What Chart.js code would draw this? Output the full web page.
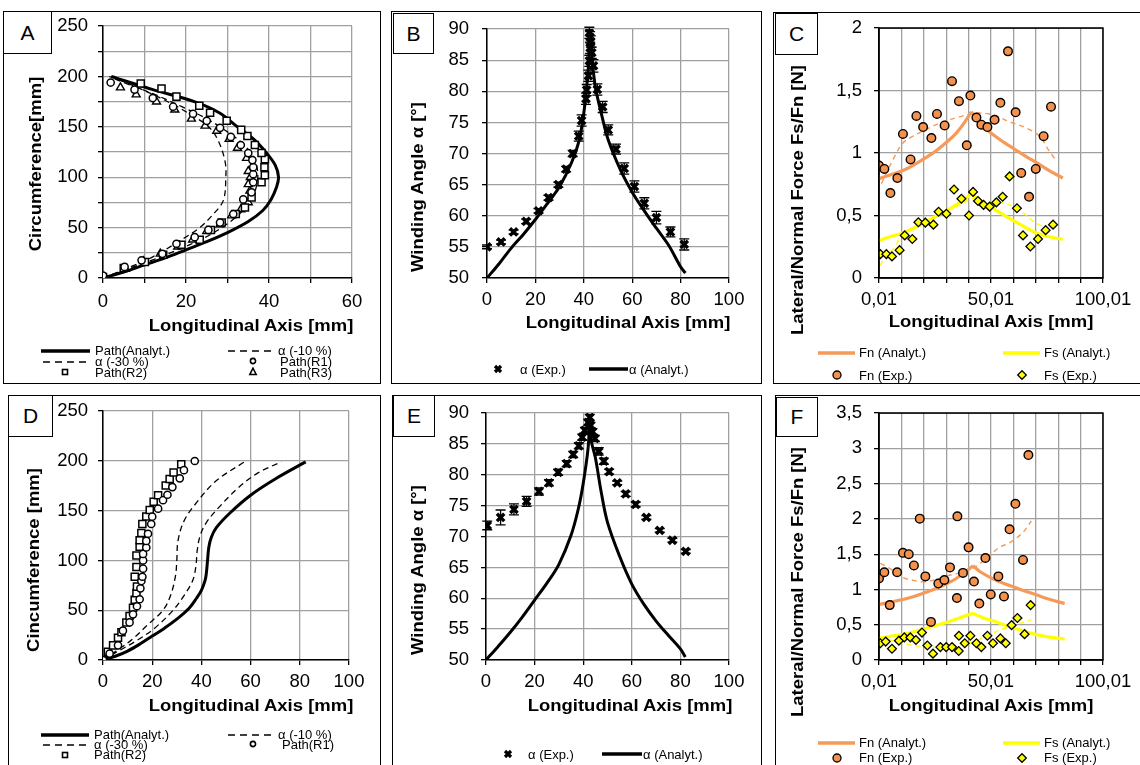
<!DOCTYPE html>
<html><head><meta charset="utf-8">
<script src="https://cdn.jsdelivr.net/npm/chart.js@4.4.1/dist/chart.umd.min.js"></script>
<style>
html,body{margin:0;padding:0;background:#fff;}
#page{position:relative;width:1140px;height:765px;overflow:hidden;background:#fff;font-family:"Liberation Sans",Arial,Helvetica,sans-serif;color:#000;}
.panel{position:absolute;border:1px solid #000;box-sizing:border-box;}
.lbl{position:absolute;border:1px solid #000;background:#fff;box-sizing:border-box;font-size:21px;display:flex;align-items:center;justify-content:center;z-index:5;}
.ttl{position:absolute;font-weight:bold;font-size:16.5px;white-space:nowrap;line-height:20px;z-index:4;}
.xt{transform:translate(-50%,-50%) scaleX(1.12);}
.yt{transform:translate(-50%,-50%) rotate(-90deg) scaleX(1.12);}
.lg{position:absolute;font-size:13px;line-height:16px;white-space:nowrap;z-index:4;}
canvas{position:absolute;z-index:2;}
svg.ov{position:absolute;left:0;top:0;z-index:3;}
</style></head>
<body><div id="page"></div>
<script>
// ---------- DATA ----------
// Panel A
const A_analyt_x = [0,5,10,15,20,25,30,35,38.5,40.5,41.8,42.3,41.5,39.2,36.5,32.4,28,22,12,2];
const A_analyt_y = [0,6,13,20,28,36,45,56,67,78,90,100,112,125,137,150,164,175,187,200];
const A_m10_x = [0,6,12,18,24,29,33,36,37.3,36.5,34,30,25,19,12,5,1.5];
const A_m10_y = [0,9,18,28,39,51,64,80,100,118,132,145,158,170,183,194,200];
const A_m30_x = [0,6,12,18.5,23.3,26.6,29,29.6,29.4,27.8,25.5,22,17,10,2];
const A_m30_y = [0,10,21,37,50,63.5,77,100,116,136,150,160,172,186,200];
const A_R1_x = [0,5.2,9.3,14.3,17.7,22.1,25.4,28.2,31.4,33.8,35.8,36.2,36.2,36.2,36,35,33.2,30.8,28.2,25,21.7,16.9,12,7.6,1.85];
const A_R1_y = [2.5,11,17.5,24,34,40.5,47.7,55,63.5,78,85,95,103,110,117,124,132,140,149,156,163,170,178.6,187,194];
const A_R2_x = [0,5,10.1,14.5,18.9,23.3,26,28.6,32,34.2,35.8,38.2,39,38.9,39,38.2,36.6,34.8,33.3,29.8,25.8,23.2,17.7,14.1,9.1];
const A_R2_y = [1,10,15.8,23,33,38,47.7,55,63.5,70,80,95,102,110,118,124,132,141,147,156,164,171,180,188,193];
const A_R3_x = [0.4,5.4,9.8,13.8,18,21.6,25,28.2,31,33.2,35,35.4,35,35.5,35,34.6,32.4,30.4,27.4,24.6,21.3,17.3,12.9,8,4.2];
const A_R3_y = [0,9,16.5,24,31,38,46.5,53,62,68,75,86.5,93,100,106,119,129,138,146,151,158,167,175,182,189];

// Panel B
const B_exp_x = [0,5.8,11,16.2,21.3,25.4,29.5,32.7,35.4,37.9,39.1,40.9,41.2,41.9,42.3,42.6,42.6,42.3,42.9,43.3,44,45.6,47.8,50.1,53.3,56.7,60.9,65,70,75.8,81.5];
const B_exp_y = [55,55.8,57.4,59.1,60.8,62.9,65,67.5,70,72.8,75.3,78.8,80.2,82.5,84.9,87,88.7,89.4,88,86.2,84.1,80.3,77.5,73.8,70.7,67.6,64.7,62,59.7,57.4,55.4];
const B_exp_err = [0.3,0.3,0.3,0.35,0.35,0.4,0.4,0.45,0.5,0.8,0.9,0.9,0.9,0.9,0.9,0.9,0.9,0.9,0.9,0.9,1.0,0.9,0.9,0.8,0.8,0.9,0.9,0.9,1.0,0.8,0.9];
const B_anL_x = [0,5,10,15,20,25,30,35,38,40,41.5,42.2,42.6];
const B_anL_y = [50,52.3,54.8,57,59.4,62,64.7,68.6,72,76.5,82,86,90];
const B_anR_x = [42.6,43.2,44,45,47.5,50,55,60,65,70,75,80,82];
const B_anR_y = [90,86,83,80.2,76,72.3,67.5,63.8,60.8,58,55.3,51.8,50.8];

// Panel C
const C_FnL_x = [0.01,5,10.7,16,21.1,26,30.8,34.5,37.5,41.2];
const C_FnL_y = [0.794,0.825,0.86,0.91,0.965,1.025,1.096,1.16,1.227,1.33];
const C_FnR_x = [41.2,45,50.9,55.8,60.6,65.4,70.2,76,82.1];
const C_FnR_y = [1.33,1.24,1.148,1.085,1.03,0.975,0.925,0.86,0.80];
const C_FsL_x = [0.01,5,10.7,16,21.1,26,30.8,34.5,37.5,41.2];
const C_FsL_y = [0.30,0.33,0.36,0.405,0.453,0.498,0.545,0.585,0.62,0.676];
const C_FsR_x = [41.2,45,50.9,55.8,60.6,65.4,70.2,76,82.1];
const C_FsR_y = [0.676,0.62,0.558,0.503,0.453,0.405,0.36,0.33,0.31];
const C_FnD_x = [1.1,6.3,10.7,15.2,21.1,28.6,36,43.5,50.9,58.3,65.8,71.7,75.5,78.4];
const C_FnD_y = [0.755,0.95,1.08,1.135,1.19,1.25,1.29,1.32,1.305,1.25,1.2,1.135,1.03,0.957];
const C_FsD_x = [0.5,3.3,6.3,10.7,16.7,21.1,28.6,36,42,48,55.4,62.8,68.8,74.7];
const C_FsD_y = [0.1,0.19,0.23,0.35,0.40,0.445,0.52,0.585,0.637,0.61,0.6,0.545,0.453,0.40];
const C_FnE_x = [0,2.4,5.1,8.2,10.7,14.1,16.7,19.7,23.4,25.9,29.3,32.6,35.7,39.2,40.8,43.5,45.7,48.4,51.6,54.2,57.6,61,63.5,67,70,73.5,76.8];
const C_FnE_y = [0.9,0.873,0.68,0.8,1.153,0.949,1.297,1.208,1.12,1.313,1.221,1.575,1.415,1.062,1.46,1.284,1.227,1.208,1.266,1.402,1.814,1.326,0.841,0.65,0.873,1.135,1.371];
const C_FsE_x = [0.6,3.3,5.8,9.2,11.5,14.9,17.6,20.7,24.3,26.6,30.1,33.5,36.8,40.2,42,44.2,46.7,49.4,52.4,55.2,58.3,61.6,64.3,67.6,71,74.4,77.7];
const C_FsE_y = [0.191,0.191,0.173,0.223,0.341,0.312,0.446,0.443,0.427,0.53,0.514,0.708,0.634,0.5,0.689,0.616,0.585,0.571,0.605,0.65,0.813,0.558,0.341,0.252,0.312,0.383,0.427];

// Panel D
const D_analyt_x = [0,5,10,15,20,25,30,35,38,40,41.5,42,42.5,43,44,46,51.5,60,70.5,82.4];
const D_analyt_y = [0,3.8,9,16,24,32,41,52,62,70,80,87,100,113,123,132.7,147.4,165.5,182.5,199];
const D_m10_x = [0,7,14,21,28.5,33,36.5,37.8,38.3,39.5,42,47,55,63,72.5];
const D_m10_y = [0,10,20,32,50,65,80,95,110,125,138,153,173,188,199];
const D_m30_x = [0,6,12,18,24.4,27.5,29.5,30,30.5,33,38,46,57.5];
const D_m30_y = [0,10,21,35,50,65,85,100,120,140,158,180,199];
const D_R1_x = [0,2.7,6.1,8.1,10.8,12.2,13.8,14.9,15.2,15.6,16,16.3,16.3,16.3,17.6,17.6,18.3,19.6,20,22.4,24.4,26.2,28.2,31.2,32.9,37.3];
const D_R1_y = [0,6.5,14.7,29.5,37.7,45.9,54,61,72,79.3,83.6,91.7,100,106.5,113,119.6,126.8,136.6,144,152,160.5,166,173.7,182.5,190.7,199.9];
const D_R2_x = [0,2,4.1,6.1,7.5,9.5,10.8,12.2,12.9,13.6,13.8,12.9,13.6,13.6,14.9,14.9,15.6,16,17.6,19,20.6,22.4,25.5,27.1,28.7,31.8];
const D_R2_y = [0,8.2,14.7,22.3,27.9,37.7,44.2,52.4,60.6,67.2,73.7,83.6,93.4,104.9,113.7,120.2,127.5,136.6,144.2,150.7,159,165.5,175.3,181.8,188.4,196.6];

// Panel E
const E_exp_x = [0.5,6,11.5,16.7,21.8,25.9,29.7,33.2,35.9,38.2,39.6,40.7,42.1,42.7,43,43.8,44.8,46.4,48.5,50.7,54,57.5,61.6,66,71.5,76.7,82.2];
const E_exp_y = [71.8,73.1,74.4,75.7,77.3,78.7,80.4,81.8,83.3,84.7,86.1,87.2,88.5,89.3,88,87,85.9,83.8,82.2,80.5,78.7,76.9,75.2,73.1,71,69.4,67.6];
const E_exp_err = [0.7,1.2,0.9,0.8,0.6,0.5,0.5,0.5,0.5,0.5,0.5,0.5,0.5,0.5,0.5,0.5,0.5,0.6,0.5,0.4,0.3,0.4,0.4,0.3,0.3,0.3,0.3];
const E_anL_x = [0,5,10,15,20,25,30,35,38,40,42,42.6];
const E_anL_y = [50,52.2,54.5,57,59.7,62.4,65.5,70.2,74.5,78.6,84.3,88.5];
const E_anR_x = [42.6,43.3,45,47.5,50,55,60,65,70,75,80,82];
const E_anR_y = [88.5,85.5,82.8,77,72.3,66.8,62.3,59,56.3,54,51.8,50.5];

// Panel F
const F_FnL_x = [0.01,5,10.7,16,21.1,26,30.8,34.5,37.5,42];
const F_FnL_y = [0.787,0.82,0.858,0.905,0.96,1.02,1.09,1.155,1.225,1.336];
const F_FnR_x = [42,45,50.9,55.8,60.6,65.4,70.2,76,82.9];
const F_FnR_y = [1.336,1.255,1.15,1.085,1.03,0.975,0.925,0.86,0.80];
const F_FsL_x = [0.01,5,10.7,16,21.1,26,30.8,34.5,37.5,42];
const F_FsL_y = [0.31,0.335,0.365,0.405,0.45,0.495,0.54,0.58,0.615,0.663];
const F_FsR_x = [42,45,50.9,55.8,60.6,65.4,70.2,76,82.9];
const F_FsR_y = [0.663,0.615,0.555,0.5,0.45,0.4,0.36,0.325,0.297];
const F_FnD_x = [0.6,6.3,10.7,15.2,19.7,24.1,30.1,36,42,47.9,53.9,58.3,64.3,68];
const F_FnD_y = [1.37,1.27,1.17,1.13,1.107,1.13,1.19,1.235,1.3,1.44,1.6,1.66,1.81,1.97];
const F_FsD_x = [0.6,9.2,15.2,24.1,33,39,44,47.9,52,56.9,62,68];
const F_FsD_y = [0.32,0.25,0.205,0.183,0.197,0.23,0.28,0.343,0.4,0.457,0.51,0.572];
const F_FnE_x = [0,2.4,4.8,8.1,10.7,13.3,15.6,18.2,20.7,23.2,26.5,29.2,31.7,34.8,35,37.5,40,42.4,44.8,47.5,49.9,53.3,55.8,58.3,60.9,64.3,66.7];
const F_FnE_y = [1.157,1.244,0.778,1.244,1.519,1.5,1.34,2.004,1.185,0.54,1.084,1.134,1.313,0.878,2.036,1.235,1.597,1.112,0.8,1.446,0.929,1.185,0.901,1.853,2.214,1.418,2.905];
const F_FsE_x = [0.6,3,5.8,8.9,11.3,14,16.5,19.2,21.6,24.1,27.4,30,32.6,35.6,35.7,38.3,40.8,43.5,45.7,48.4,50.9,54.2,56.6,59.2,61.8,65,67.7];
const F_FsE_y = [0.238,0.261,0.16,0.274,0.32,0.32,0.284,0.389,0.206,0.09,0.183,0.183,0.183,0.128,0.343,0.238,0.343,0.238,0.183,0.343,0.238,0.306,0.238,0.494,0.595,0.366,0.778];

// tick label sets
const C_xTicks = [0.01,10.01,20.01,30.01,40.01,50.01,60.01,70.01,80.01,90.01,100.01];
const C_xLabels = ['0,01','','','','','50,01','','','','','100,01'];

// ---------- HELPERS ----------
const page = document.getElementById('page');
const ORANGE = '#F4914C', ORANGE_LINE = '#F59A58', YELLOW = '#FFFF00';
const zip = (xs, ys) => xs.map((x, i) => ({x: x, y: ys[i]}));
const FONT = '"Liberation Sans", Arial, sans-serif';

function box(cls, x, y, w, h, text) {
  const d = document.createElement('div');
  d.className = cls;
  d.style.left = x + 'px'; d.style.top = y + 'px';
  d.style.width = w + 'px'; d.style.height = h + 'px';
  if (text) d.textContent = text;
  page.appendChild(d);
}
function title(t, x, y, rot) {
  const d = document.createElement('div');
  d.className = 'ttl ' + (rot ? 'yt' : 'xt');
  d.style.left = x + 'px'; d.style.top = y + 'px';
  d.textContent = t;
  page.appendChild(d);
}
function txt(t, x, y) {
  const d = document.createElement('div');
  d.className = 'lg';
  d.style.left = x + 'px'; d.style.top = (y - 8) + 'px';
  d.textContent = t;
  page.appendChild(d);
}
const svgParts = [];
function sLine(x1, x2, y, col, w, dash) {
  svgParts.push(`<line x1="${x1}" y1="${y}" x2="${x2}" y2="${y}" stroke="${col}" stroke-width="${w}"${dash ? ` stroke-dasharray="${dash}"` : ''}/>`);
}
function sCircle(x, y, r, fill, sw) { svgParts.push(`<circle cx="${x}" cy="${y}" r="${r}" fill="${fill}" stroke="#000" stroke-width="${sw}"/>`); }
function sSquare(x, y, s) { svgParts.push(`<rect x="${x - s / 2}" y="${y - s / 2}" width="${s}" height="${s}" fill="#fff" stroke="#000" stroke-width="1.6"/>`); }
function sTri(x, y, s) { svgParts.push(`<polygon points="${x},${y - s * 0.6} ${x - s / 2},${y + s * 0.4} ${x + s / 2},${y + s * 0.4}" fill="#fff" stroke="#000" stroke-width="1.5"/>`); }
function sX(x, y, s) { svgParts.push(`<path d="M${x - s} ${y - s}L${x + s} ${y + s}M${x + s} ${y - s}L${x - s} ${y + s}" stroke="#000" stroke-width="3.2"/>`); }
function sDia(x, y, s) { svgParts.push(`<polygon points="${x},${y - s} ${x + s},${y} ${x},${y + s} ${x - s},${y}" fill="${YELLOW}" stroke="#000" stroke-width="1.3"/>`); }

const errPlugin = {
  id: 'errbars',
  beforeDatasetsDraw(chart) {
    const ctx = chart.ctx, xs = chart.scales.x, ys = chart.scales.y;
    chart.data.datasets.forEach(ds => {
      if (!ds.errors) return;
      ctx.save(); ctx.strokeStyle = '#000'; ctx.lineWidth = 1.3;
      ds.data.forEach((p, j) => {
        const e = ds.errors[j], px = xs.getPixelForValue(p.x);
        const y1 = ys.getPixelForValue(p.y - e), y2 = ys.getPixelForValue(p.y + e);
        ctx.beginPath();
        ctx.moveTo(px, y1); ctx.lineTo(px, y2);
        ctx.moveTo(px - 5, y1); ctx.lineTo(px + 5, y1);
        ctx.moveTo(px - 5, y2); ctx.lineTo(px + 5, y2);
        ctx.stroke();
      });
      ctx.restore();
    });
  }
};
const boxPlugin = {
  id: 'plotbox',
  afterDraw(chart, args, opts) {
    if (!opts || !opts.on) return;
    const a = chart.chartArea, ctx = chart.ctx;
    ctx.save(); ctx.strokeStyle = '#000'; ctx.lineWidth = 1.5;
    ctx.strokeRect(a.left, a.top, a.right - a.left, a.bottom - a.top);
    ctx.restore();
  }
};

function lineDS(xs, ys, color, width, dash, tension) {
  return {data: zip(xs, ys), showLine: true, pointRadius: 0, borderColor: color, borderWidth: width,
          borderDash: dash || [], tension: tension === undefined ? 0.35 : tension, fill: false};
}
function ptDS(xs, ys, style, r, fill, stroke, bw) {
  return {data: zip(xs, ys), showLine: false, pointStyle: style, pointRadius: r,
          backgroundColor: fill, borderColor: stroke, pointBorderWidth: bw, borderWidth: bw};
}

function addChart(c, area, xo, yo, datasets, boxed) {
  const cv = document.createElement('canvas');
  cv.width = c.w; cv.height = c.h;
  cv.style.left = c.x + 'px'; cv.style.top = c.y + 'px';
  cv.style.width = c.w + 'px'; cv.style.height = c.h + 'px';
  page.appendChild(cv);
  const grid = {color: '#a0a0a0', lineWidth: 1.3, drawTicks: true, tickLength: 5, tickColor: '#000'};
  const border = {color: '#000', width: 1.5};
  const tickFont = {family: FONT, size: 18.5};
  const xScale = {
    type: 'linear', position: 'bottom', min: xo.min, max: xo.max,
    grid: grid, border: border,
    ticks: {stepSize: xo.step, autoSkip: false, maxRotation: 0, minRotation: 0, color: '#000', font: tickFont,
            padding: xo.pad, callback: xo.cb},
    afterFit: s => { s.height = c.y + c.h - area.b; }
  };
  if (xo.ticks) xScale.afterBuildTicks = s => { s.ticks = xo.ticks.map(v => ({value: v})); };
  const yScale = {
    type: 'linear', position: 'left', min: yo.min, max: yo.max,
    grid: grid, border: border,
    ticks: {stepSize: yo.step, autoSkip: false, color: '#000', font: tickFont, padding: yo.pad, callback: yo.cb},
    afterFit: s => { s.width = area.l - c.x; }
  };
  return new Chart(cv, {
    type: 'scatter',
    data: {datasets: datasets},
    options: {
      responsive: false, animation: false, devicePixelRatio: 1, events: [],
      layout: {padding: {left: 0, bottom: 0, top: area.t - c.y, right: c.x + c.w - area.r}},
      plugins: {legend: {display: false}, tooltip: {enabled: false}, plotbox: {on: !!boxed}},
      scales: {x: xScale, y: yScale}
    },
    plugins: [errPlugin, boxPlugin]
  });
}
const every = n => (v => (Math.abs(v / n - Math.round(v / n)) < 1e-6 ? String(v) : ''));
const comma = v => String(Math.round(v * 100) / 100).replace('.', ',');

// ---------- PANELS ----------
box('panel', 3, 11, 378, 373);
box('panel', 391, 11, 371, 373);
box('panel', 773, 12, 372, 372);
box('panel', 8, 395, 373, 375);
box('panel', 392, 395, 370, 375);
box('panel', 775, 395, 370, 375);

// A
addChart({x: 3, y: 5, w: 378, h: 315}, {l: 103, t: 24, r: 352, b: 278},
  {min: 0, max: 60, step: 10, pad: 8, cb: every(20)},
  {min: 0, max: 250, step: 25, pad: 10, cb: every(50)},
  [ptDS(A_R1_x, A_R1_y, 'circle', 3.6, '#fff', '#000', 1.5),
   ptDS(A_R2_x, A_R2_y, 'rect', 5, '#fff', '#000', 1.5),
   ptDS(A_R3_x, A_R3_y, 'triangle', 4.6, '#fff', '#000', 1.4),
   lineDS(A_analyt_x, A_analyt_y, '#000', 3),
   lineDS(A_m10_x, A_m10_y, '#000', 1.3, [6, 4]),
   lineDS(A_m30_x, A_m30_y, '#000', 1.3, [6, 4])]);
// B
addChart({x: 392, y: 5, w: 370, h: 315}, {l: 487, t: 24, r: 729, b: 278},
  {min: 0, max: 100, step: 20, pad: 6, cb: every(20)},
  {min: 50, max: 90, step: 5, pad: 13, cb: every(5)},
  [Object.assign(ptDS(B_exp_x, B_exp_y, 'crossRot', 5.2, '#000', '#000', 3.4), {errors: B_exp_err}),
   lineDS(B_anL_x, B_anL_y, '#000', 3),
   lineDS(B_anR_x, B_anR_y, '#000', 3)]);
// C
addChart({x: 775, y: 5, w: 365, h: 315}, {l: 879, t: 23, r: 1103, b: 278},
  {min: 0.01, max: 100.01, step: 10, pad: 6, ticks: C_xTicks, cb: (v, i) => C_xLabels[i]},
  {min: 0, max: 2, step: 0.5, pad: 12, cb: comma},
  [ptDS(C_FnE_x, C_FnE_y, 'circle', 4.3, ORANGE, '#000', 1.4),
   ptDS(C_FsE_x, C_FsE_y, 'rectRot', 4.4, YELLOW, '#000', 1.3),
   lineDS(C_FnL_x, C_FnL_y, ORANGE_LINE, 3.2),
   lineDS(C_FnR_x, C_FnR_y, ORANGE_LINE, 3.2),
   lineDS(C_FsL_x, C_FsL_y, YELLOW, 3.2),
   lineDS(C_FsR_x, C_FsR_y, YELLOW, 3.2),
   lineDS(C_FnD_x, C_FnD_y, ORANGE_LINE, 1.4, [5, 4]),
   lineDS(C_FsD_x, C_FsD_y, YELLOW, 1.4, [5, 4])], true);
// D
addChart({x: 8, y: 390, w: 373, h: 320}, {l: 103, t: 406, r: 349, b: 660},
  {min: 0, max: 100, step: 20, pad: 6, cb: every(20)},
  {min: 0, max: 250, step: 50, pad: 10, cb: every(50)},
  [ptDS(D_R1_x, D_R1_y, 'circle', 3.6, '#fff', '#000', 1.5),
   ptDS(D_R2_x, D_R2_y, 'rect', 5, '#fff', '#000', 1.5),
   lineDS(D_analyt_x, D_analyt_y, '#000', 3),
   lineDS(D_m10_x, D_m10_y, '#000', 1.3, [6, 4]),
   lineDS(D_m30_x, D_m30_y, '#000', 1.3, [6, 4])]);
// E
addChart({x: 392, y: 390, w: 370, h: 320}, {l: 486, t: 406, r: 729, b: 660},
  {min: 0, max: 100, step: 20, pad: 6, cb: every(20)},
  {min: 50, max: 90, step: 5, pad: 12, cb: every(5)},
  [Object.assign(ptDS(E_exp_x, E_exp_y, 'crossRot', 5.2, '#000', '#000', 3.4), {errors: E_exp_err}),
   lineDS(E_anL_x, E_anL_y, '#000', 3),
   lineDS(E_anR_x, E_anR_y, '#000', 3)]);
// F
addChart({x: 776, y: 390, w: 364, h: 320}, {l: 879, t: 405, r: 1103, b: 660},
  {min: 0.01, max: 100.01, step: 10, pad: 6, ticks: C_xTicks, cb: (v, i) => C_xLabels[i]},
  {min: 0, max: 3.5, step: 0.5, pad: 12, cb: comma},
  [ptDS(F_FnE_x, F_FnE_y, 'circle', 4.3, ORANGE, '#000', 1.4),
   ptDS(F_FsE_x, F_FsE_y, 'rectRot', 4.4, YELLOW, '#000', 1.3),
   lineDS(F_FnL_x, F_FnL_y, ORANGE_LINE, 3.2),
   lineDS(F_FnR_x, F_FnR_y, ORANGE_LINE, 3.2),
   lineDS(F_FsL_x, F_FsL_y, YELLOW, 3.2),
   lineDS(F_FsR_x, F_FsR_y, YELLOW, 3.2),
   lineDS(F_FnD_x, F_FnD_y, ORANGE_LINE, 1.4, [5, 4]),
   lineDS(F_FsD_x, F_FsD_y, YELLOW, 1.4, [5, 4])], true);

// panel letters
box('lbl', 3, 11, 49, 43, 'A');
box('lbl', 393, 13, 41, 41, 'B');
box('lbl', 775, 13, 43, 42, 'C');
box('lbl', 8, 395, 45, 42, 'D');
box('lbl', 393, 395, 42, 42, 'E');
box('lbl', 776, 397, 42, 40, 'F');

// axis titles
title('Circumference[mm]', 35, 164, true);
title('Longitudinal Axis [mm]', 251, 325, false);
title('Winding Angle α [°]', 417, 187, true);
title('Longitudinal Axis [mm]', 628, 322, false);
title('Lateral/Normal Force Fs/Fn [N]', 797, 200, true);
title('Longitudinal Axis [mm]', 991, 321, false);
title('Cincumference [mm]', 33, 560, true);
title('Longitudinal Axis [mm]', 251, 705, false);
title('Winding Angle α [°]', 417, 570, true);
title('Longitudinal Axis [mm]', 630, 705, false);
title('Lateral/Normal Force Fs/Fn [N]', 797, 582, true);
title('Longitudinal Axis [mm]', 991, 705, false);

// legends A
sLine(41, 90, 351, '#000', 3.5); txt('Path(Analyt.)', 95, 351);
sLine(228, 273, 351, '#000', 1.4, '7 5'); txt('α (-10 %)', 278, 351);
sLine(43, 90, 362, '#000', 1.4, '7 5'); txt('α (-30 %)', 95, 362);
sCircle(253, 361, 2.6, '#fff', 1.6); txt('Path(R1)', 280, 362);
sSquare(65, 372, 5); txt('Path(R2)', 95, 373);
sTri(253, 372, 6.5); txt('Path(R3)', 280, 373);
// legend B
sX(498, 369, 3); txt('α (Exp.)', 520, 370);
sLine(589, 628, 369, '#000', 3.5); txt('α (Analyt.)', 629, 370);
// legend C
sLine(818, 855, 353, ORANGE_LINE, 3.5); txt('Fn (Analyt.)', 859, 353);
sLine(1003, 1040, 353, YELLOW, 3.5); txt('Fs (Analyt.)', 1044, 353);
sCircle(837, 375, 4, ORANGE, 1.3); txt('Fn (Exp.)', 859, 376);
sDia(1022, 375, 4.3); txt('Fs (Exp.)', 1044, 376);
// legend D
sLine(41, 89, 735, '#000', 3.5); txt('Path(Analyt.)', 94, 735);
sLine(228, 273, 735, '#000', 1.4, '7 5'); txt('α (-10 %)', 278, 735);
sLine(43, 89, 745, '#000', 1.4, '7 5'); txt('α (-30 %)', 94, 745);
sCircle(253, 744, 2.6, '#fff', 1.6); txt('Path(R1)', 282, 745);
sSquare(65, 755, 5); txt('Path(R2)', 94, 755);
// legend E
sX(508, 754, 3); txt('α (Exp.)', 528, 755);
sLine(602, 642, 754, '#000', 3.5); txt('α (Analyt.)', 643, 755);
// legend F
sLine(818, 855, 743, ORANGE_LINE, 3.5); txt('Fn (Analyt.)', 859, 743);
sLine(1003, 1040, 743, YELLOW, 3.5); txt('Fs (Analyt.)', 1044, 743);
sCircle(837, 758, 4, ORANGE, 1.3); txt('Fn (Exp.)', 859, 758);
sDia(1022, 758, 4.3); txt('Fs (Exp.)', 1044, 758);

page.insertAdjacentHTML('beforeend', `<svg class="ov" width="1140" height="765">${svgParts.join('')}</svg>`);
</script></body></html>
